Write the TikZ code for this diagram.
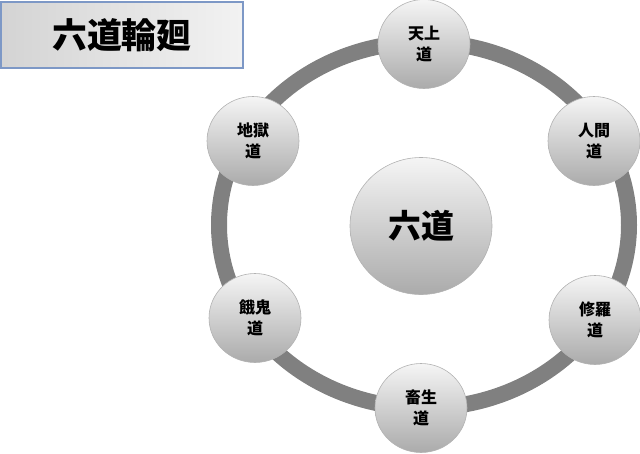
\documentclass[tikz,border=0pt]{standalone}
\usepackage{fontspec}
\newfontfamily\cjk{Noto Sans CJK JP}
\usetikzlibrary{shapes.geometric}
\tikzset{
  ringline/.style={line width=16pt, draw=black!50},
  realm/.style={ellipse, minimum width=92pt, minimum height=89pt, inner sep=0pt,
    top color=black!4, bottom color=black!33, draw=black!30, line width=0.6pt,
    align=center, font=\cjk\bfseries\fontsize{16pt}{21pt}\selectfont},
  hub/.style={ellipse, minimum width=142pt, minimum height=137pt, inner sep=0pt,
    top color=black!4, bottom color=black!33, draw=black!30, line width=0.6pt,
    font=\cjk\bfseries\fontsize{33pt}{36pt}\selectfont},
  titlebox/.style={rectangle, minimum width=242pt, minimum height=66pt, inner sep=0pt,
    left color=black!17, right color=black!5, draw={rgb,255:red,125;green,152;blue,198}, line width=1.2pt,
    font=\cjk\bfseries\fontsize{35pt}{38pt}\selectfont}
}
\begin{document}
\begin{tikzpicture}[x=1pt,y=-1pt]
\useasboundingbox (0,0) rectangle (640,453);
\coordinate (ctr) at (424,225);
\draw[ringline] (ctr) ellipse [x radius=205, y radius=183];
\node[titlebox] (title) at (122,35) {六道輪廻};
\node[hub] (hub) at (421,226) {六道};
\node[realm] (tenjo) at (424,44) {天上\\道};
\node[realm] (ningen) at (594,141) {人間\\道};
\node[realm] (shura) at (595,320) {修羅\\道};
\node[realm] (chiku) at (421,408) {畜生\\道};
\node[realm] (gaki) at (255,318) {餓鬼\\道};
\node[realm] (jigoku) at (253,141) {地獄\\道};
\end{tikzpicture}
\end{document}
